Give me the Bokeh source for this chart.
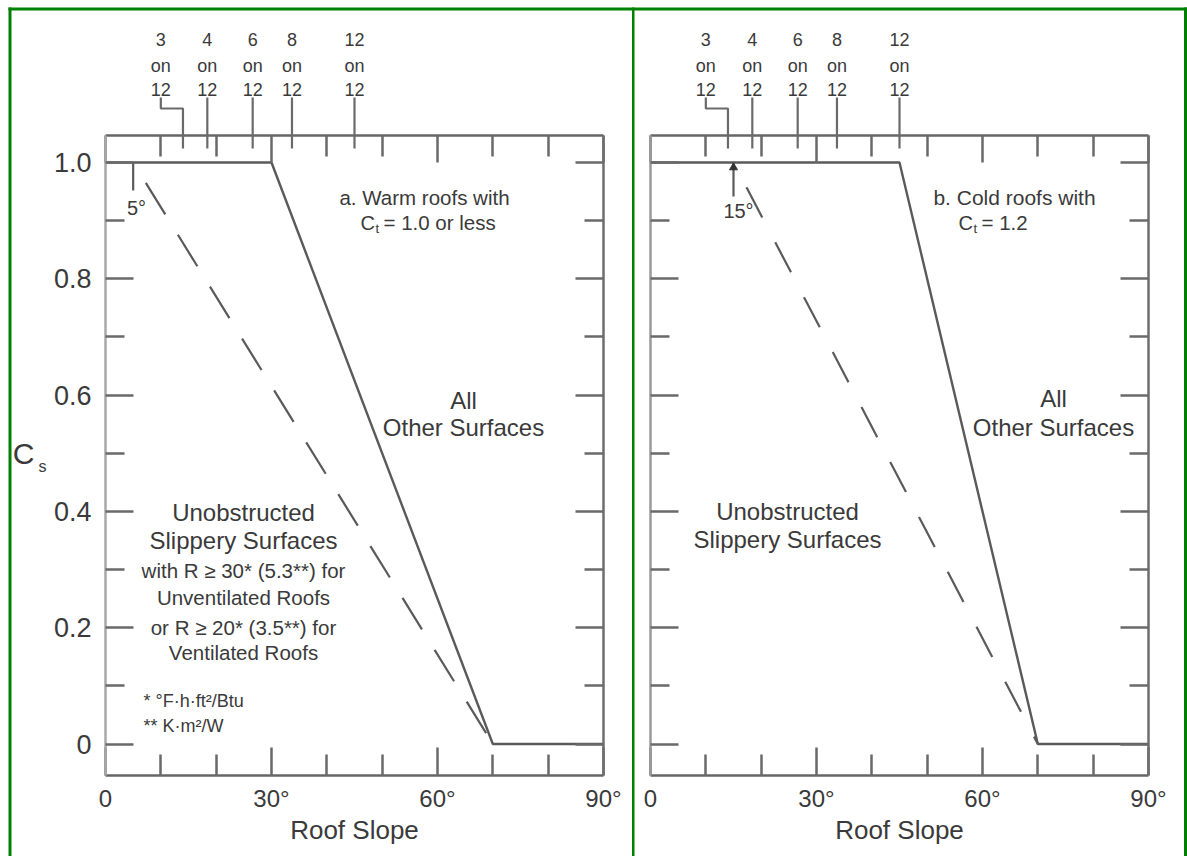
from bokeh.plotting import figure
from bokeh.models import Range1d, LinearAxis, FixedTicker, NumeralTickFormatter
from bokeh.layouts import row
from bokeh.embed import file_html
from bokeh.resources import INLINE
from bokeh.core.properties import value

# ---------------- data ----------------
warm_all_slope = [0, 30, 70, 90]
warm_all_cs = [1.0, 1.0, 0.0, 0.0]
warm_slip_slope = [5, 70]
warm_slip_cs = [1.0, 0.0]

cold_all_slope = [0, 45, 70, 90]
cold_all_cs = [1.0, 1.0, 0.0, 0.0]
cold_slip_slope = [15, 70]
cold_slip_cs = [1.0, 0.0]

pitch_rise = ["3", "4", "6", "8", "12"]
pitch_deg = [14.0, 18.4, 26.6, 33.7, 45.0]

x_major = [0, 30, 60, 90]
x_minor = [10, 20, 40, 50, 70, 80]
x_labels = {0: "0", 30: "30°", 60: "60°", 90: "90°"}
y_major = [0, 0.2, 0.4, 0.6, 0.8, 1.0]
y_minor = [0.1, 0.3, 0.5, 0.7, 0.9]

# ---------------- layout / style ----------------
FONT = "Liberation Sans"
TXT = "#3a3a3a"
LINE = "#5a5a5a"
TICK = "#6a6a6a"
GREEN = "#008000"

H = 856
W_L, W_R = 632, 555
FR_W = 498
FT_PX, FB_PX = 135.0, 775.0          # frame top / bottom (px)
Y0_PX, Y1_PX = 743.5, 162.0          # px of Cs=0 and Cs=1
B_TOP, B_BOT = int(FT_PX), int(H - FB_PX)
PPU = Y0_PX - Y1_PX
YLO = -(FB_PX - Y0_PX) / PPU
YHI = 1 + (Y1_PX - FT_PX) / PPU


def style_axis(ax, major, minor, line_color, maj_in, min_in, label_size=None, standoff=0, fmt=None, overrides=None):
    ax.ticker = FixedTicker(ticks=major, minor_ticks=minor)
    ax.axis_line_color = line_color
    ax.axis_line_width = 2.5
    ax.major_tick_in = maj_in
    ax.major_tick_out = 0
    ax.minor_tick_in = min_in
    ax.minor_tick_out = 0
    ax.major_tick_line_color = TICK
    ax.major_tick_line_width = 2.5
    ax.minor_tick_line_color = TICK
    ax.minor_tick_line_width = 2.5
    if fmt is not None:
        ax.formatter = fmt
    if overrides is not None:
        ax.major_label_overrides = overrides
    if label_size:
        ax.major_label_text_font_size = label_size
        ax.major_label_text_font = FONT
        ax.major_label_text_color = TXT
        ax.major_label_standoff = standoff
    else:
        ax.major_label_text_font_size = "8px"
        ax.major_label_text_color = None
        ax.major_label_standoff = 0


def panel(width, border_left, frame_left_px, left_labels):
    p = figure(width=width, height=H, x_range=Range1d(0, 90), y_range=Range1d(YLO, YHI),
               output_backend="svg", toolbar_location=None,
               min_border_left=border_left, min_border_right=width - border_left - FR_W,
               min_border_top=B_TOP, min_border_bottom=B_BOT)
    p.grid.visible = False
    p.outline_line_color = None
    p.background_fill_color = "white"
    p.border_fill_color = "white"

    bottom = p.below[0]
    left = p.left[0]
    style_axis(bottom, x_major, x_minor, "#666666", 28, 21, "24px", 9, overrides=x_labels)
    bottom.axis_label = "Roof Slope"
    bottom.axis_label_text_font = FONT
    bottom.axis_label_text_font_size = "26px"
    bottom.axis_label_text_font_style = "normal"
    bottom.axis_label_text_color = TXT
    bottom.axis_label_standoff = 0
    if left_labels:
        style_axis(left, y_major, y_minor, "#a8a8a8", 28, 19, "27px", 14,
                   fmt=NumeralTickFormatter(format="0.0"), overrides={0: "0"})
    else:
        style_axis(left, y_major, y_minor, "#9a9a9a", 28, 19)

    top = LinearAxis()
    style_axis(top, x_major, x_minor, "#666666", 27, 21)
    p.add_layout(top, "above")
    right = LinearAxis()
    style_axis(right, y_major, y_minor, "#6e6e6e", 28, 19)
    p.add_layout(right, "right")

    def gx(px):
        return (px - frame_left_px) * 90.0 / FR_W

    def gy(py):
        return (Y0_PX - py) / PPU

    return p, gx, gy


def txt(p, xs, ys, texts, size, align="center", baseline="middle"):
    p.text(x=xs, y=ys, text=texts, text_font=value(FONT), text_font_size=value(size),
           text_color=TXT, text_align=align, text_baseline=baseline, level="overlay")


def pitch_scale(p, gx, gy):
    label_x = [10.0] + pitch_deg[1:]
    for base_py, row_txt in ((39, pitch_rise), (65, ["on"] * 5), (89, ["12"] * 5)):
        txt(p, label_x, [gy(base_py)] * 5, row_txt, "18px", baseline="alphabetic")
    # elbow leader for 3 on 12
    p.line([label_x[0], label_x[0], pitch_deg[0], pitch_deg[0]],
           [gy(97), gy(108), gy(108), gy(148)], line_color=TICK, line_width=2.2, level="overlay")
    for d in pitch_deg[1:]:
        p.line([d, d], [gy(97), gy(148)], line_color=TICK, line_width=2.2, level="overlay")


# ---------------- left panel (warm roofs) ----------------
pl, gxl, gyl = panel(W_L, 105, 105.0, True)
pl.line(warm_all_slope, warm_all_cs, line_color=LINE, line_width=2.4)
pl.line(warm_slip_slope, warm_slip_cs, line_color=LINE, line_width=2.2,
        line_dash="37 24", line_dash_offset=37)
pl.line([warm_slip_slope[0]] * 2, [warm_slip_cs[0], gyl(190)], line_color=LINE, line_width=2.2)
pitch_scale(pl, gxl, gyl)

txt(pl, [gxl(136)], [gyl(207)], ["5°"], "20px")
txt(pl, [gxl(424)], [gyl(197)], ["a. Warm roofs with"], "20.5px")
txt(pl, [gxl(360)], [gyl(222)], ["C"], "20px", align="left")
txt(pl, [gxl(375)], [gyl(228)], ["t"], "13px", align="left")
txt(pl, [gxl(383)], [gyl(222)], ["= 1.0 or less"], "20.5px", align="left")
txt(pl, [gxl(463)] * 2, [gyl(400), gyl(427)], ["All", "Other Surfaces"], "24px")
txt(pl, [gxl(243)] * 2, [gyl(512), gyl(540)], ["Unobstructed", "Slippery Surfaces"], "24px")
txt(pl, [gxl(243)] * 4, [gyl(570), gyl(597), gyl(627), gyl(652)],
    ["with R ≥ 30* (5.3**) for", "Unventilated Roofs", "or R ≥ 20* (3.5**) for", "Ventilated Roofs"], "20.5px")
txt(pl, [gxl(143)] * 2, [gyl(700), gyl(725)], ["* °F·h·ft²/Btu", "** K·m²/W"], "18px", align="left")
# C_s axis title
txt(pl, [gxl(23)], [gyl(453)], ["C"], "30px")
txt(pl, [gxl(42)], [gyl(466)], ["s"], "16px")
# green frame
pl.line([gxl(9.5)] * 2, [gyl(7), gyl(870)], line_color=GREEN, line_width=3, level="overlay")
pl.line([gxl(8), gxl(640)], [gyl(8.5)] * 2, line_color=GREEN, line_width=3, level="overlay")

# ---------------- right panel (cold roofs) ----------------
pr, gxr, gyr = panel(W_R, 18, 650.0, False)
pr.line(cold_all_slope, cold_all_cs, line_color=LINE, line_width=2.4)
pr.line(cold_slip_slope, cold_slip_cs, line_color=LINE, line_width=2.2,
        line_dash="34 28", line_dash_offset=34)
pr.line([cold_slip_slope[0]] * 2, [cold_slip_cs[0], gyr(196)], line_color=LINE, line_width=2.2)
pr.scatter([cold_slip_slope[0]], [gyr(167)], marker="triangle", size=8, color="#333333")
pitch_scale(pr, gxr, gyr)

txt(pr, [gxr(738)], [gyr(210)], ["15°"], "20px")
txt(pr, [gxr(1014)], [gyr(197)], ["b. Cold roofs with"], "21px")
txt(pr, [gxr(958)], [gyr(222)], ["C"], "20px", align="left")
txt(pr, [gxr(973)], [gyr(228)], ["t"], "13px", align="left")
txt(pr, [gxr(981)], [gyr(222)], ["= 1.2"], "20.5px", align="left")
txt(pr, [gxr(1053)] * 2, [gyr(398), gyr(427)], ["All", "Other Surfaces"], "24px")
txt(pr, [gxr(787)] * 2, [gyr(511), gyr(539)], ["Unobstructed", "Slippery Surfaces"], "24px")
# green frame
pr.line([gxr(632.5)] * 2, [gyr(7), gyr(870)], line_color=GREEN, line_width=3, level="overlay")
pr.line([gxr(1185)] * 2, [gyr(7), gyr(870)], line_color=GREEN, line_width=3, level="overlay")
pr.line([gxr(620), gxr(1200)], [gyr(8.5)] * 2, line_color=GREEN, line_width=3, level="overlay")

layout = row(pl, pr)
open("out.html", "w").write(file_html(layout, INLINE))
